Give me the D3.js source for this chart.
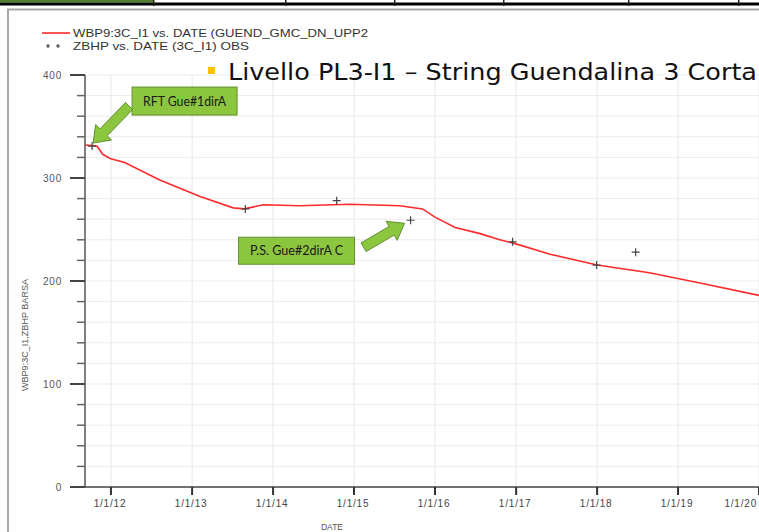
<!DOCTYPE html>
<html>
<head>
<meta charset="utf-8">
<script src="https://cdn.jsdelivr.net/npm/d3@7/dist/d3.min.js"></script>
<style>
  html, body { margin: 0; padding: 0; background: #fff; }
  svg { display: block; }
</style>
</head>
<body>
<svg id="chart" width="759" height="532"></svg>
<script>
// ---- data ----
const simDates = ["2011-09-06","2011-10-30","2011-11-25","2011-12-28","2012-03-03","2012-08-08",
  "2013-02-06","2013-07-05","2013-08-25","2013-11-17","2014-05-01","2014-12-13","2015-07-27",
  "2015-11-06","2016-01-01","2016-04-01","2016-07-23","2016-10-19","2016-12-16","2017-06-03",
  "2018-01-01","2018-08-25","2019-04-10","2020-01-01"];
const simValues = [332, 331, 323, 319, 315, 298, 282, 271, 270, 274, 273, 274.5, 273,
  270, 262, 252, 246, 240, 237, 226, 215.5, 208, 198, 186];

const obsDates = ["2011-10-08","2013-08-29","2014-10-15","2015-09-13","2016-12-16","2017-12-30","2018-06-24"];
const obsValues = [331, 270, 278, 259, 238, 215.5, 228];

const yTicks = [0, 100, 200, 300, 400];
const xTickDates = ["2012-01-01","2013-01-01","2014-01-01","2015-01-01","2016-01-01",
  "2017-01-01","2018-01-01","2019-01-01","2020-01-01"];

const legendLabels = ["WBP9:3C_I1  vs.  DATE (GUEND_GMC_DN_UPP2", "ZBHP  vs.  DATE (3C_I1) OBS"];
const titleText = "Livello PL3-I1 \u2013 String Guendalina 3 Corta";
const yAxisTitle = "WBP9:3C_I1,ZBHP  BARSA";
const xAxisTitle = "DATE";

const annLabels = ["RFT Gue#1dirA", "P.S. Gue#2dirA C"];
const annObsIndex = [0, 3];

// ---- setup ----
const parse = d3.timeParse("%Y-%m-%d");
const svg = d3.select("#chart");

const x = d3.scaleTime()
  .domain([parse("2011-09-06"), parse("2020-01-01")])
  .range([85, 759]);
const y = d3.scaleLinear().domain([0, 400]).range([487, 75]);

// top decoration bar
svg.append("rect").attr("x", 0).attr("y", 0).attr("width", 153).attr("height", 2.5).attr("fill", "#4f7f31");
svg.append("rect").attr("x", 0).attr("y", 2.5).attr("width", 759).attr("height", 3).attr("fill", "#000");
[153, 285, 394, 503, 628, 738].forEach(d => {
  svg.append("rect").attr("x", d).attr("y", 0).attr("width", 1.5).attr("height", 6).attr("fill", "#222");
});

// panel border
svg.append("path").attr("d", "M8,532 L8,9.5 L759,9.5")
  .attr("fill", "none").attr("stroke", "#a8a8a8").attr("stroke-width", 2);

// grid
const g = svg.append("g");
const minorY = d3.range(0, 401, 20);
g.selectAll("line.hg").data(minorY).join("line").attr("class", "hg")
  .attr("x1", 85).attr("x2", 759)
  .attr("y1", d => y(d)).attr("y2", d => y(d))
  .attr("stroke", "#ececec").attr("stroke-width", 1);
g.selectAll("line.vg").data(xTickDates.map(parse)).join("line").attr("class", "vg")
  .attr("x1", d => x(d)).attr("x2", d => x(d))
  .attr("y1", y(400)).attr("y2", y(0))
  .attr("stroke", "#e6e6e6").attr("stroke-width", 1);

// y axis
const yAxisG = svg.append("g").attr("transform", "translate(85,0)");
yAxisG.append("line").attr("x1", 0).attr("x2", 0).attr("y1", y(400)).attr("y2", y(0))
  .attr("stroke", "#555").attr("stroke-width", 1.5);
yAxisG.selectAll("line.minor").data(minorY.filter(d => d % 100 !== 0)).join("line").attr("class", "minor")
  .attr("x1", -8).attr("x2", 0).attr("y1", d => y(d)).attr("y2", d => y(d))
  .attr("stroke", "#666").attr("stroke-width", 1.5);
yAxisG.selectAll("line.major").data(yTicks).join("line").attr("class", "major")
  .attr("x1", -15).attr("x2", 0).attr("y1", d => y(d)).attr("y2", d => y(d))
  .attr("stroke", "#444").attr("stroke-width", 2);
yAxisG.selectAll("text").data(yTicks).join("text")
  .attr("x", -23).attr("y", d => y(d)).attr("dy", "0.35em")
  .attr("text-anchor", "end")
  .attr("font-family", "Liberation Sans, Arial, sans-serif").attr("font-size", 10)
  .attr("letter-spacing", 0.8)
  .attr("fill", "#555").text(d => d);

// x axis
const xAxisG = svg.append("g").attr("transform", `translate(0,${y(0)})`);
xAxisG.append("line").attr("x1", 85).attr("x2", 759).attr("y1", 0).attr("y2", 0)
  .attr("stroke", "#444").attr("stroke-width", 1.5);
const fmt = d3.timeFormat("%-m/%-d/%y");
const xt = xTickDates.map(parse);
xAxisG.selectAll("line.tk").data(xt).join("line").attr("class", "tk")
  .attr("x1", d => x(d)).attr("x2", d => x(d)).attr("y1", 0).attr("y2", 8)
  .attr("stroke", "#333").attr("stroke-width", 2);
xAxisG.selectAll("text").data(xt).join("text")
  .attr("x", (d, i) => i === xt.length - 1 ? x(d) - 2 : x(d) - 1)
  .attr("y", 20)
  .attr("text-anchor", (d, i) => i === xt.length - 1 ? "end" : "middle")
  .attr("font-family", "Liberation Sans, Arial, sans-serif").attr("font-size", 10)
  .attr("letter-spacing", 0.8)
  .attr("fill", "#444").text(d => fmt(d));

// axis titles
svg.append("text").attr("transform", `translate(28,${335}) rotate(-90)`)
  .attr("text-anchor", "middle").attr("textLength", 112).attr("lengthAdjust", "spacingAndGlyphs")
  .attr("font-family", "Liberation Sans, Arial, sans-serif").attr("font-size", 8.5)
  .attr("fill", "#555").text(yAxisTitle);
svg.append("text").attr("x", 332).attr("y", 530).attr("text-anchor", "middle")
  .attr("font-family", "Liberation Sans, Arial, sans-serif").attr("font-size", 8.5)
  .attr("fill", "#555").text(xAxisTitle);

// simulated line
const sim = simDates.map((d, i) => ({ date: parse(d), v: simValues[i] }));
svg.append("path").datum(sim)
  .attr("d", d3.line().x(d => x(d.date)).y(d => y(d.v)))
  .attr("fill", "none").attr("stroke", "#ff2a2a").attr("stroke-width", 1.6);

// observations
const obs = obsDates.map((d, i) => ({ date: parse(d), v: obsValues[i] }));
svg.append("g").selectAll("path").data(obs).join("path")
  .attr("d", d => `M${x(d.date) - 4},${y(d.v)}H${x(d.date) + 4}M${x(d.date)},${y(d.v) - 4}V${y(d.v) + 4}`)
  .attr("stroke", "#444").attr("stroke-width", 1.2);

// legend
svg.append("line").attr("x1", 42).attr("x2", 70).attr("y1", 33).attr("y2", 33)
  .attr("stroke", "#ff2a2a").attr("stroke-width", 1.6);
svg.append("text").attr("x", 73).attr("y", 37).attr("textLength", 295).attr("lengthAdjust", "spacingAndGlyphs")
  .attr("font-family", "Liberation Sans, Arial, sans-serif").attr("font-size", 11)
  .attr("fill", "#333").text(legendLabels[0]);
[48, 58].forEach(px => {
  svg.append("path").attr("d", `M${px - 2},46H${px + 2}M${px},44V48`)
    .attr("stroke", "#444").attr("stroke-width", 1.2);
});
svg.append("text").attr("x", 73).attr("y", 50).attr("textLength", 176).attr("lengthAdjust", "spacingAndGlyphs")
  .attr("font-family", "Liberation Sans, Arial, sans-serif").attr("font-size", 11)
  .attr("fill", "#333").text(legendLabels[1]);

// title
svg.append("rect").attr("x", 208).attr("y", 67).attr("width", 7).attr("height", 7).attr("fill", "#ffc000");
svg.append("text").attr("x", 228).attr("y", 80).attr("textLength", 529).attr("lengthAdjust", "spacingAndGlyphs")
  .attr("font-family", "DejaVu Sans, Verdana, sans-serif").attr("font-size", 22.5)
  .attr("fill", "#111").text(titleText);

// annotations
const annTip = [[1, -3], [-6, 3]];
const annTail = [[37, -40], [-47, 27]];
const annBox = [[40, -59, 105, 28], [-172, 17, 116, 27]];
const annTextLen = [83, 93];
function arrowPath(x0, y0, x1, y1, sw, hw, hl) {
  const dx = x1 - x0, dy = y1 - y0, L = Math.hypot(dx, dy);
  const ux = dx / L, uy = dy / L, nx = -uy, ny = ux;
  const bx = x1 - ux * hl, by = y1 - uy * hl;
  const p = [
    [x0 + nx * sw / 2, y0 + ny * sw / 2],
    [bx + nx * sw / 2, by + ny * sw / 2],
    [bx + nx * hw / 2, by + ny * hw / 2],
    [x1, y1],
    [bx - nx * hw / 2, by - ny * hw / 2],
    [bx - nx * sw / 2, by - ny * sw / 2],
    [x0 - nx * sw / 2, y0 - ny * sw / 2]
  ];
  return "M" + p.map(q => q.join(",")).join("L") + "Z";
}
annLabels.forEach((lab, i) => {
  const o = obs[annObsIndex[i]];
  const ax = x(o.date), ay = y(o.v);
  svg.append("path")
    .attr("d", arrowPath(ax + annTail[i][0], ay + annTail[i][1], ax + annTip[i][0], ay + annTip[i][1], 10, 22, 15))
    .attr("fill", "#8cc63f").attr("stroke", "#5f8f2f").attr("stroke-width", 1);
  const b = annBox[i];
  svg.append("rect").attr("x", ax + b[0]).attr("y", ay + b[1]).attr("width", b[2]).attr("height", b[3])
    .attr("fill", "#8cc63f").attr("stroke", "#5f8f2f").attr("stroke-width", 1);
  svg.append("text").attr("x", ax + b[0] + b[2] / 2).attr("y", ay + b[1] + b[3] / 2 + 4.5)
    .attr("text-anchor", "middle").attr("textLength", annTextLen[i]).attr("lengthAdjust", "spacingAndGlyphs")
    .attr("font-family", "Lato, Open Sans, sans-serif").attr("font-size", 13)
    .attr("fill", "#1a1a1a").text(lab);
});
</script>
</body>
</html>
